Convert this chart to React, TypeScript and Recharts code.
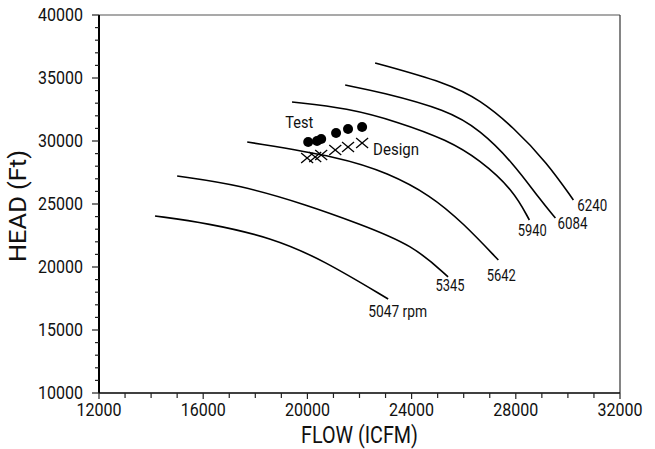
import { ComposedChart, Line, Scatter, XAxis, YAxis, ReferenceLine } from 'recharts';

const FONT = "Roboto, 'Liberation Sans', sans-serif";

// constant-speed lines (FLOW in ICFM, HEAD in ft)
const rpm5047 = [
    { x: 14150, y: 24050 }, { x: 16150, y: 23490 }, { x: 18680, y: 22300 },
    { x: 20600, y: 20550 }, { x: 23100, y: 17460 },
];
const rpm5345 = [
    { x: 15000, y: 27220 }, { x: 17420, y: 26510 }, { x: 19990, y: 24920 },
    { x: 21910, y: 23490 }, { x: 24060, y: 21750 }, { x: 25400, y: 19210 },
];
const rpm5642 = [
    { x: 17690, y: 29920 }, { x: 21260, y: 28730 }, { x: 23100, y: 27460 },
    { x: 24710, y: 25710 }, { x: 25980, y: 23490 }, { x: 27330, y: 20550 },
];
const rpm5940 = [
    { x: 19410, y: 33100 }, { x: 21530, y: 32620 }, { x: 23490, y: 31510 },
    { x: 25370, y: 30080 }, { x: 26630, y: 28490 }, { x: 27900, y: 26110 },
    { x: 28520, y: 23730 },
];
const rpm6084 = [
    { x: 21450, y: 34440 }, { x: 22790, y: 33890 }, { x: 25370, y: 32460 },
    { x: 26630, y: 30870 }, { x: 27900, y: 28250 }, { x: 28940, y: 25320 },
    { x: 29520, y: 23890 },
];
const rpm6240 = [
    { x: 22600, y: 36190 }, { x: 25370, y: 34600 }, { x: 26630, y: 33250 },
    { x: 27900, y: 31110 }, { x: 29210, y: 28250 }, { x: 30210, y: 25320 },
];

const testPoints = [
    { x: 20030, y: 29920 }, { x: 20370, y: 30000 }, { x: 20530, y: 30160 },
    { x: 21100, y: 30630 }, { x: 21560, y: 30950 }, { x: 22100, y: 31110 },
];
const designPoints = [
    { x: 19990, y: 28650 }, { x: 20300, y: 28730 }, { x: 20530, y: 28890 },
    { x: 21070, y: 29290 }, { x: 21560, y: 29520 }, { x: 22100, y: 29840 },
];

const xMajor = [12000, 16000, 20000, 24000, 28000, 32000];
const yMajor = [10000, 15000, 20000, 25000, 30000, 35000, 40000];

const xTicks: number[] = [];
for (let v = 12000; v <= 32000; v += 1000) xTicks.push(v);
const yTicks: number[] = [];
for (let v = 10000; v <= 40000; v += 1000) yTicks.push(v);

const curves = [
    { name: '5047 rpm', data: rpm5047, dx: -20, dy: 14, anchor: 'start', w: 59 },
    { name: '5345', data: rpm5345, dx: 2, dy: 10, anchor: 'middle', w: 29 },
    { name: '5642', data: rpm5642, dx: 3, dy: 17, anchor: 'middle', w: 29 },
    { name: '5940', data: rpm5940, dx: 3, dy: 12, anchor: 'middle', w: 29 },
    { name: '6084', data: rpm6084, dx: 2, dy: 7, anchor: 'start', w: 30 },
    { name: '6240', data: rpm6240, dx: 4, dy: 7, anchor: 'start', w: 30 },
];

const XTick = ({ x, y, payload }: any) => {
    const major = xMajor.includes(payload.value);
    return (
        <g>
            <line x1={x} x2={x} y1={y} y2={y + (major ? 6 : 5)} stroke="#222" strokeWidth={1.2} />
            {major && (
                <text x={x} y={y + 18} textAnchor="middle" dominantBaseline="middle" textLength={45}
                    lengthAdjust="spacingAndGlyphs" fontSize={19} fontFamily={FONT} fill="#111">{payload.value}</text>
            )}
        </g>
    );
};

const YTick = ({ x, y, payload }: any) => {
    const major = yMajor.includes(payload.value);
    return (
        <g>
            <line x1={x - (major ? 7 : 4)} x2={x} y1={y} y2={y} stroke="#222" strokeWidth={1.2} />
            {major && (
                <text x={x - 16} y={y + 1} textAnchor="end" dominantBaseline="middle" textLength={45}
                    lengthAdjust="spacingAndGlyphs" fontSize={19} fontFamily={FONT} fill="#111">{payload.value}</text>
            )}
        </g>
    );
};

export default function App() {
    return (
        <div style={{ position: 'fixed', left: 0, top: 0, background: '#fff' }}>
            <ComposedChart width={655} height={449} margin={{ top: 15, right: 35, bottom: 0, left: 0 }}>
                <XAxis dataKey="x" type="number" domain={[12000, 32000]} ticks={xTicks} interval={0}
                    allowDataOverflow height={56} tickSize={0} tickMargin={0} tickLine={false}
                    axisLine={{ stroke: '#000', strokeWidth: 1.6 }} tick={<XTick />}
                    label={{
                        content: ({ viewBox }: any) => (
                            <text x={viewBox.x + viewBox.width / 2} y={viewBox.y + 44} textAnchor="middle"
                                dominantBaseline="middle" textLength={117} lengthAdjust="spacingAndGlyphs"
                                fontSize={24} fontFamily={FONT} fill="#111">FLOW (ICFM)</text>
                        ),
                    }} />
                <YAxis dataKey="y" type="number" domain={[10000, 40000]} ticks={yTicks} interval={0}
                    allowDataOverflow width={99} tickSize={0} tickMargin={0} tickLine={false}
                    axisLine={{ stroke: '#000', strokeWidth: 2 }} tick={<YTick />}
                    label={{
                        content: ({ viewBox }: any) => {
                            const cy = viewBox.y + viewBox.height / 2 + 2;
                            return (
                                <text x={20} y={cy} textAnchor="middle" dominantBaseline="middle"
                                    textLength={112} lengthAdjust="spacingAndGlyphs"
                                    transform={`rotate(-90 20 ${cy})`} fontSize={24} fontFamily={FONT} fill="#111">HEAD (Ft)</text>
                            );
                        },
                    }} />
                <ReferenceLine y={40000} stroke="#555" strokeWidth={1.2} />
                <ReferenceLine x={32000} stroke="#333" strokeWidth={1.2} />

                {curves.map((c) => (
                    <Line key={c.name} data={c.data} dataKey="y" type="basis" stroke="#000" strokeWidth={1.6}
                        isAnimationActive={false} activeDot={false}
                        dot={(p: any) => p.index === c.data.length - 1 ? (
                            <text key={`lbl-${c.name}`} x={p.cx + c.dx} y={p.cy + c.dy} textAnchor={c.anchor}
                                dominantBaseline="middle" textLength={c.w} lengthAdjust="spacingAndGlyphs"
                                fontSize={16} fontFamily={FONT} fill="#111">{c.name}</text>
                        ) : <g key={`d-${c.name}-${p.index}`} />} />
                ))}

                <Scatter data={testPoints} dataKey="y" isAnimationActive={false}
                    shape={(p: any) => (
                        <g>
                            <circle cx={p.cx} cy={p.cy} r={5} fill="#000" />
                            {p.index === 0 && (
                                <text x={p.cx - 9} y={p.cy - 18} textAnchor="middle" dominantBaseline="middle"
                                    textLength={28} lengthAdjust="spacingAndGlyphs"
                                    fontSize={17} fontFamily={FONT} fill="#111">Test</text>
                            )}
                        </g>
                    )} />
                <Scatter data={designPoints} dataKey="y" isAnimationActive={false}
                    shape={(p: any) => (
                        <g>
                            <line x1={p.cx - 6} y1={p.cy - 5} x2={p.cx + 6} y2={p.cy + 5} stroke="#000" strokeWidth={1.3} />
                            <line x1={p.cx - 6} y1={p.cy + 5} x2={p.cx + 6} y2={p.cy - 5} stroke="#000" strokeWidth={1.3} />
                            {p.index === designPoints.length - 1 && (
                                <text x={p.cx + 11} y={p.cy + 7} textAnchor="start" dominantBaseline="middle"
                                    textLength={46} lengthAdjust="spacingAndGlyphs"
                                    fontSize={17} fontFamily={FONT} fill="#111">Design</text>
                            )}
                        </g>
                    )} />
            </ComposedChart>
        </div>
    );
}
